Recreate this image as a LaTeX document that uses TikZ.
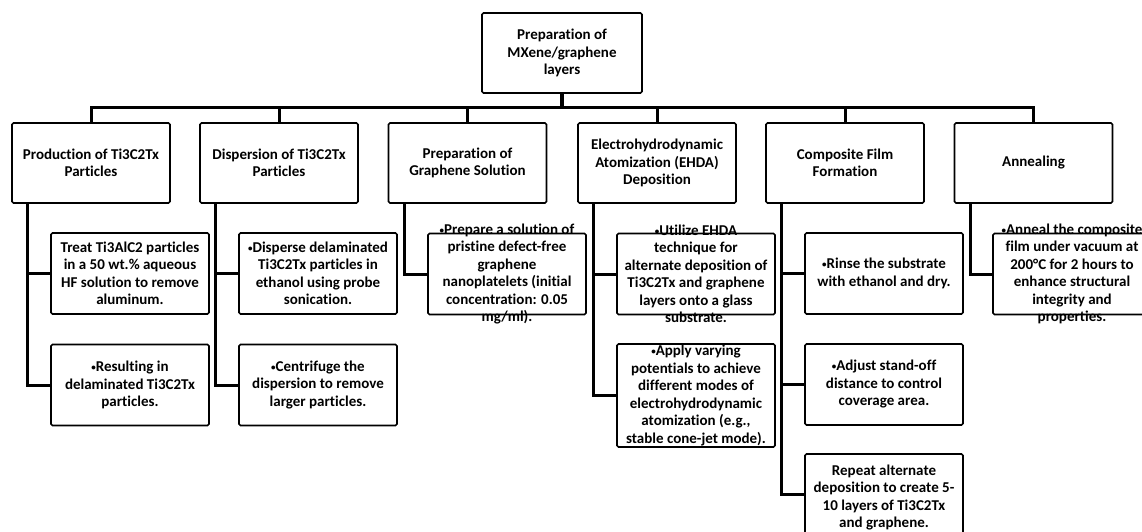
\documentclass[tikz,border=0pt]{standalone}
\usepackage{fontspec}
\usepackage{graphicx}
\setmainfont{Carlito}[Ligatures=NoCommon]
\newcommand{\bul}{\raisebox{1.2pt}{\scalebox{0.6}{•}}}
\begin{document}
\begin{tikzpicture}[x=1pt,y=-1pt,
  box/.style={draw, line width=1.6pt, rounded corners=1.5pt, inner sep=0pt, fill=white},
  kid/.style={box, minimum width=158pt, minimum height=80pt},
  sub/.style={box, minimum width=158pt, minimum height=81pt},
  txt/.style={font=\fontsize{15}{17.5}\selectfont\bfseries, align=center, inner sep=0pt},
  conn/.style={line width=3pt, line join=miter},
  bar/.style={line width=4pt}]
\useasboundingbox (0,0) rectangle (1142,532);
\clip (0,0) rectangle (1142,532);
\fill[white] (0,0) rectangle (1142,532);

% top
\node[box, minimum width=160pt, minimum height=80pt] (top) at (562,53) {};
\node[txt] (topt) at (top) {Preparation of\\MXene/graphene\\layers};

% children
\node[kid] (c1) at (91,163) {};
\node[kid] (c2) at (279,163) {};
\node[kid] (c3) at (467.5,163) {};
\node[kid] (c4) at (657,163) {};
\node[kid] (c5) at (845,163) {};
\node[kid] (c6) at (1033.5,163) {};
\node[txt] (c1t) at (c1) {Production of Ti3C2Tx\\Particles};
\node[txt] (c2t) at (c2) {Dispersion of Ti3C2Tx\\Particles};
\node[txt] (c3t) at (c3) {Preparation of\\Graphene Solution};
\node[txt] (c4t) at (c4) {Electrohydrodynamic\\Atomization (EHDA)\\Deposition};
\node[txt] (c5t) at (c5) {Composite Film\\Formation};
\node[txt] (c6t) at (c6) {Annealing};

% bus
\coordinate (bus) at (562,108);
\draw[bar] (top.south) -- (bus);
\draw[conn] (c1.north) -- (c1.north |- bus) -- (c6.north |- bus) -- (c6.north);
\foreach \c in {c2,c3,c4,c5} \draw[conn] (\c.north) -- (\c.north |- bus);

% sub boxes
\node[sub] (s1a) at (130,273.5) {};
\node[sub] (s1b) at (130,385) {};
\node[sub] (s2a) at (318,273.5) {};
\node[sub] (s2b) at (318,385) {};
\node[sub] (s3a) at (507,274) {};
\node[sub] (s4a) at (696,274) {};
\node[box, minimum width=158pt, minimum height=103pt] (s4b) at (696,395.5) {};
\node[sub] (s5a) at (884,273.5) {};
\node[sub] (s5b) at (884,384.5) {};
\node[sub] (s5c) at (884,494.5) {};
\node[sub] (s6a) at (1072,274) {};

% connectors
\foreach \c/\s in {c1/s1a,c1/s1b,c2/s2a,c2/s2b,c3/s3a,c4/s4a,c4/s4b,c5/s5a,c5/s5b,c5/s5c,c6/s6a}
  \draw[conn] ([xshift=16.5pt]\c.south west) |- (\s.west);

% texts
\node[txt] (s1at) at (s1a) {Treat Ti3AlC2 particles\\in a 50 wt.\% aqueous\\HF solution to remove\\aluminum.};
\node[txt] (s1bt) at (s1b) {\bul Resulting in\\delaminated Ti3C2Tx\\particles.};
\node[txt] (s2at) at (s2a) {\bul Disperse delaminated\\Ti3C2Tx particles in\\ethanol using probe\\sonication.};
\node[txt] (s2bt) at (s2b) {\bul Centrifuge the\\dispersion to remove\\larger particles.};
\node[txt] (s3at) at (s3a) {\bul Prepare a solution of\\pristine defect-free\\graphene\\nanoplatelets (initial\\concentration: 0.05\\mg/ml).};
\node[txt] (s4at) at (s4a) {\bul Utilize EHDA\\technique for\\alternate deposition of\\Ti3C2Tx and graphene\\layers onto a glass\\substrate.};
\node[txt] (s4bt) at (s4b) {\bul Apply varying\\potentials to achieve\\different modes of\\electrohydrodynamic\\atomization (e.g.,\\stable cone-jet mode).};
\node[txt] (s5at) at (s5a) {\bul Rinse the substrate\\with ethanol and dry.};
\node[txt] (s5bt) at (s5b) {\bul Adjust stand-off\\distance to control\\coverage area.};
\node[txt] (s5ct) at ([yshift=-3pt]s5c.center) {Repeat alternate\\deposition to create 5-\\10 layers of Ti3C2Tx\\and graphene.};
\node[txt] (s6at) at (s6a) {\bul Anneal the composite\\film under vacuum at\\200°C for 2 hours to\\enhance structural\\integrity and\\properties.};
\end{tikzpicture}
\end{document}
